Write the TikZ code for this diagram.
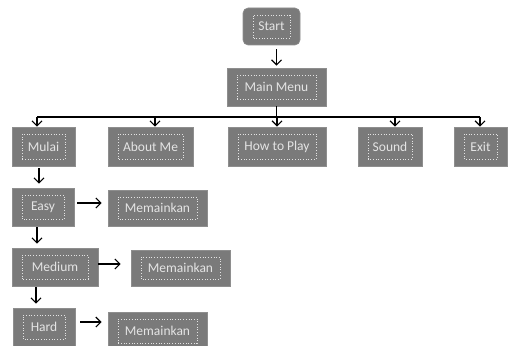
\documentclass[tikz,border=0pt]{standalone}
\usepackage{fontspec}
\setmainfont{Carlito}
\usetikzlibrary{arrows.meta}
\definecolor{abu}{HTML}{7A7A7A}
\definecolor{putih}{HTML}{E4E4E4}

\begin{document}
\begin{tikzpicture}[x=1pt, y=-1pt,
        kotak/.style={fill=abu, draw=abu!85!white, line width=0.6pt, text=putih,
            font=\fontsize{13.5}{16}\selectfont, inner sep=0pt,
            minimum height=38pt,
            path picture={\draw[putih, dotted, line width=0.7pt, sharp corners]
                ([shift={(10pt,7pt)}]path picture bounding box.south west) rectangle
                ([shift={(-10pt,-7pt)}]path picture bounding box.north east);}},
        panah/.style={-{Straight Barb[length=5pt,width=10pt]}, line width=1.2pt},
        garis/.style={line width=1.2pt}]
        \useasboundingbox (0,0) rectangle (510,345);

        % Start dan menu utama
        \node[kotak, rounded corners=5pt, minimum width=57pt, minimum height=37pt] (start) at (271.5,26.5) {Start};
        \node[kotak, minimum width=99pt] (menu) at (276.5,87) {Main Menu};
        \draw[panah, shorten <=4pt, shorten >=2pt] (start.south -| menu.north) -- (menu.north);

        % Baris pilihan menu
        \node[kotak, minimum width=63pt, minimum height=39pt] (mulai) at (43.5,146.5) {Mulai};
        \node[kotak, minimum width=85pt, minimum height=39pt] (about) at (150.5,146.5) {About Me};
        \node[kotak, minimum width=98pt, minimum height=39pt] (howto) at (277,146.5) {How to Play};
        \node[kotak, minimum width=64pt, minimum height=39pt] (sound) at (390,146.5) {Sound};
        \node[kotak, minimum width=53pt, minimum height=39pt] (exit) at (480.5,146.5) {Exit};

        % Garis cabang
        \coordinate (b1) at (37,117);
        \coordinate (b2) at (155,117);
        \coordinate (b3) at (277,117);
        \coordinate (b4) at (395,117);
        \coordinate (b5) at (480,117);
        \draw[garis] (menu.south) -- (menu.south |- b3);
        \draw[garis] (b1) -- (b5);
        \draw[panah] (b1) -- (b1 |- mulai.north);
        \draw[panah] (b2) -- (b2 |- about.north);
        \draw[panah] (b3) -- (b3 |- howto.north);
        \draw[panah] (b4) -- (b4 |- sound.north);
        \draw[panah] (b5) -- (b5 |- exit.north);

        % Tingkat kesulitan
        \node[kotak, minimum width=62pt] (easy) at (43,207) {Easy};
        \node[kotak, minimum width=99pt, minimum height=36pt] (main1) at (157.5,208) {Memainkan};
        \node[kotak, minimum width=86pt] (medium) at (55,267) {Medium};
        \node[kotak, minimum width=99pt, minimum height=36pt] (main2) at (180.5,268) {Memainkan};
        \node[kotak, minimum width=62pt] (hard) at (44,327) {Hard};
        \node[kotak, minimum width=99pt] (main3) at (157.5,331) {Memainkan};

        % Panah turun
        \draw[panah, shorten <=2pt, shorten >=4pt] ([xshift=-4.5pt]mulai.south) -- ([xshift=-4.5pt]mulai.south |- easy.north);
        \draw[panah, shorten <=1pt, shorten >=4pt] ([xshift=-6pt]easy.south) -- ([xshift=-6pt]easy.south |- medium.north);
        \draw[panah, shorten <=1pt, shorten >=4pt] ([xshift=-19pt]medium.south) -- ([xshift=-19pt]medium.south |- hard.north);

        % Panah ke Memainkan
        \draw[panah, shorten <=3pt, shorten >=6pt] ([yshift=4pt]easy.east) -- ([yshift=4pt]easy.east -| main1.west);
        \draw[panah, shorten >=10pt] ([yshift=3pt]medium.east) -- ([yshift=3pt]medium.east -| main2.west);
        \draw[panah, shorten <=5pt, shorten >=6pt] ([yshift=5pt]hard.east) -- ([yshift=5pt]hard.east -| main3.west);
\end{tikzpicture}
\end{document}
